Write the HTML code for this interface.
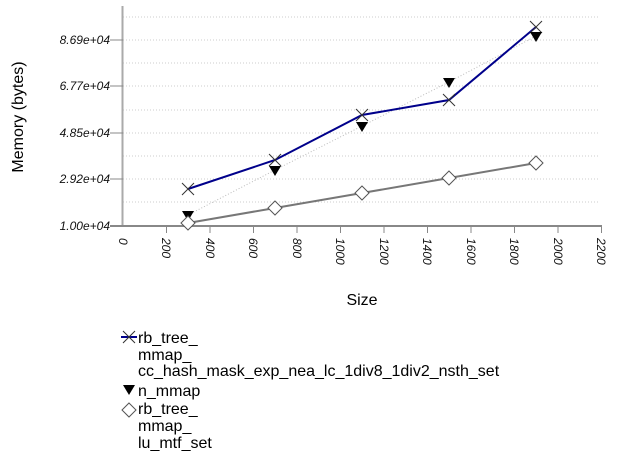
<!DOCTYPE html>
<html><head><meta charset="utf-8"><style>
body{margin:0;background:#fff;}
svg{display:block;font-family:"Liberation Sans",sans-serif;}
</style></head><body>
<svg width="620" height="458" viewBox="0 0 620 458">
<g stroke="#ccc" stroke-dasharray="1,2" stroke-width="1">
<line x1="123" y1="17" x2="600" y2="17"/><line x1="123" y1="40" x2="600" y2="40"/>
<line x1="123" y1="63" x2="600" y2="63"/><line x1="123" y1="86" x2="600" y2="86"/>
<line x1="123" y1="110" x2="600" y2="110"/><line x1="123" y1="133" x2="600" y2="133"/>
<line x1="123" y1="156" x2="600" y2="156"/><line x1="123" y1="179" x2="600" y2="179"/>
<line x1="123" y1="202" x2="600" y2="202"/>
</g>
<line x1="122.5" y1="6" x2="122.5" y2="227" stroke="#aaa" stroke-width="2"/>
<line x1="110" y1="226" x2="602" y2="226" stroke="#888" stroke-width="2"/>
<g stroke="#888">
<line x1="110" y1="40" x2="123" y2="40"/><line x1="110" y1="86" x2="123" y2="86"/>
<line x1="110" y1="133" x2="123" y2="133"/><line x1="110" y1="179" x2="123" y2="179"/>
<line x1="166.5" y1="226" x2="166.5" y2="233"/><line x1="210" y1="226" x2="210" y2="233"/>
<line x1="253.5" y1="226" x2="253.5" y2="233"/><line x1="297" y1="226" x2="297" y2="233"/>
<line x1="340.5" y1="226" x2="340.5" y2="233"/><line x1="384" y1="226" x2="384" y2="233"/>
<line x1="427.5" y1="226" x2="427.5" y2="233"/><line x1="471" y1="226" x2="471" y2="233"/>
<line x1="514.5" y1="226" x2="514.5" y2="233"/><line x1="558" y1="226" x2="558" y2="233"/>
<line x1="601.5" y1="226" x2="601.5" y2="233"/>
</g>
<g font-size="12" font-style="italic" text-anchor="end" fill="#111">
<text x="110" y="44">8.69e+04</text><text x="110" y="90">6.77e+04</text>
<text x="110" y="137">4.85e+04</text><text x="110" y="183">2.92e+04</text>
<text x="110" y="230">1.00e+04</text>
</g>
<g font-size="12" font-style="italic" fill="#111">
<text transform="translate(119,238) rotate(90)">0</text>
<text transform="translate(162,238) rotate(90)">200</text>
<text transform="translate(206,238) rotate(90)">400</text>
<text transform="translate(249,238) rotate(90)">600</text>
<text transform="translate(293,238) rotate(90)">800</text>
<text transform="translate(336,238) rotate(90)">1000</text>
<text transform="translate(380,238) rotate(90)">1200</text>
<text transform="translate(423,238) rotate(90)">1400</text>
<text transform="translate(467,238) rotate(90)">1600</text>
<text transform="translate(510,238) rotate(90)">1800</text>
<text transform="translate(554,238) rotate(90)">2000</text>
<text transform="translate(597,238) rotate(90)">2200</text>
</g>
<text transform="translate(23,117) rotate(-90)" font-size="16" text-anchor="middle">Memory (bytes)</text>
<text x="362" y="305" font-size="16" text-anchor="middle">Size</text>
<polyline points="188,215 275,170 362,126 449,82 536,36" fill="none" stroke="#bbb" stroke-dasharray="1,2"/>
<polyline points="188,223 275,208 362,193 449,178 536,163" fill="none" stroke="#777" stroke-width="2"/>
<polyline points="188,189 275,160 362,115 449,100 536,27" fill="none" stroke="#00008b" stroke-width="2"/>
<g stroke="#333" stroke-width="1">
<path d="M182,183l12,12M194,183l-12,12M269,154l12,12M281,154l-12,12M356,109l12,12M368,109l-12,12M443,94l12,12M455,94l-12,12M530,21l12,12M542,21l-12,12"/>
</g>
<g fill="#000">
<path d="M182,211h12l-6,10z M269,166h12l-6,10z M356,122h12l-6,10z M443,78h12l-6,10z M530,32h12l-6,10z"/>
</g>
<g fill="#fff" stroke="#555">
<path d="M188,216l7,7l-7,7l-7,-7z M275,201l7,7l-7,7l-7,-7z M362,186l7,7l-7,7l-7,-7z M449,171l7,7l-7,7l-7,-7z M536,156l7,7l-7,7l-7,-7z"/>
</g>
<g font-size="16" fill="#000">
<line x1="121" y1="337" x2="137" y2="337" stroke="#00008b" stroke-width="2"/>
<path d="M123,331l12,12M135,331l-12,12" stroke="#333"/>
<text x="138" y="343">rb_tree_</text>
<text x="138" y="360">mmap_</text>
<text x="138" y="376">cc_hash_mask_exp_nea_lc_1div8_1div2_nsth_set</text>
<path d="M123,385h12l-6,10z"/>
<text x="138" y="396">n_mmap</text>
<path d="M129,403l7,7l-7,7l-7,-7z" fill="#fff" stroke="#555"/>
<text x="138" y="414">rb_tree_</text>
<text x="138" y="431">mmap_</text>
<text x="138" y="448">lu_mtf_set</text>
</g>
</svg>
</body></html>
